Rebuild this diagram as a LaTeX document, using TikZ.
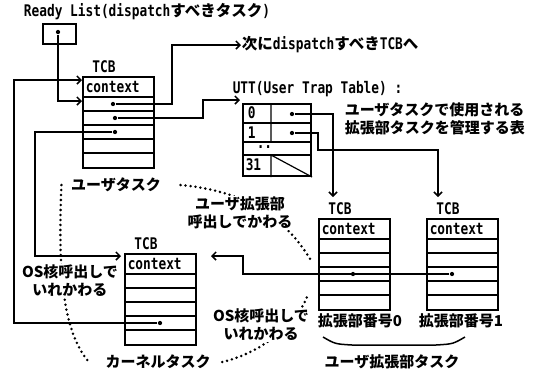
\documentclass[tikz,border=0pt]{standalone}
\usepackage{fontspec}
\setmainfont{DejaVu Sans Mono}[FakeStretch=0.8]
\newfontfamily\jpf{Noto Sans CJK JP}
\newcommand\jp[1]{{\jpf\fontsize{15.5}{17}\selectfont #1}}
\usetikzlibrary{arrows.meta}
\begin{document}
\begin{tikzpicture}[x=1pt,y=-1pt,>={Straight Barb[length=4pt,width=8pt]},line width=1.5pt,
    lbl/.style={font=\bfseries\fontsize{16}{18}\selectfont,inner sep=0pt},
    jlbl/.style={font=\jpf\bfseries\fontsize{15}{18}\selectfont,inner sep=1pt,align=center},
    tcb/.style={draw,line width=2pt,minimum width=71pt,minimum height=91pt,anchor=north west,inner sep=0pt},
    dot/.style={circle,fill,inner sep=1.5pt},
    chg/.style={dash pattern=on 0pt off 5pt,line width=2.8pt,line cap=round}]
    \useasboundingbox (0,0) rectangle (547,373);
    \node[lbl] (title) at (147,12) {Ready List(dispatch\jp{すべきタスク})};
    \node[draw,line width=2pt,minimum width=33pt,minimum height=20pt,anchor=north west,inner sep=0pt] (rl) at (42,23) {};
    \node[dot] (rldot) at (58,32) {};
    % TCB
    \foreach \n/\x/\y in {user/82/76,kern/124/253,ext0/318/218,ext1/426/218}
    {
        \node[tcb] (\n) at (\x,\y) {};
        \foreach \r in {0,...,4}
            \draw[line width=1.2pt] ([yshift={-21pt-14pt*\r}]\n.north west) -- ([yshift={-21pt-14pt*\r}]\n.north east);
        \node[lbl,anchor=west] at ([xshift=3pt,yshift=-10.5pt]\n.north west) {context};
        \node[lbl,anchor=south] at ([xshift=22pt,yshift=3pt]\n.north west) {TCB};
    }
    \node[dot] (u1) at ([xshift=31pt,yshift=-28pt]user.north west) {};
    \node[dot] (u2) at ([xshift=33pt,yshift=-42pt]user.north west) {};
    \node[dot] (u3) at ([xshift=33pt,yshift=-56pt]user.north west) {};
    \node[dot] (k4) at ([xshift=36pt,yshift=-70pt]kern.north west) {};
    \node[dot] (e0) at ([xshift=35pt,yshift=-56pt]ext0.north west) {};
    \node[dot] (e1) at ([xshift=26pt,yshift=-56pt]ext1.north west) {};
    % UTT
    \node[lbl,anchor=west] (utttitle) at (232,89) {UTT(User Trap Table) :};
    \node[draw,line width=2pt,minimum width=68pt,minimum height=72pt,anchor=north west,inner sep=0pt] (utt) at (242,103) {};
    \foreach \r in {20,39,52}
        \draw[line width=1.2pt] ([yshift=-\r pt]utt.north west) -- ([yshift=-\r pt]utt.north east);
    \draw[line width=1.2pt] ([xshift=29pt]utt.north west) -- ++(0,39)
        ([xshift=29pt,yshift=-52pt]utt.north west) -- ([xshift=29pt]utt.south west)
        ([xshift=29pt,yshift=-52pt]utt.north west) -- (utt.south east);
    \node[lbl,anchor=west] at ([xshift=5pt,yshift=-10pt]utt.north west) {0};
    \node[lbl,anchor=west] at ([xshift=5pt,yshift=-30pt]utt.north west) {1};
    \node[lbl,anchor=west] at ([xshift=14pt,yshift=-44pt]utt.north west) {..};
    \node[lbl,anchor=west] at ([xshift=3pt,yshift=-62pt]utt.north west) {31};
    \node[dot] (t0) at ([xshift=50pt,yshift=-11pt]utt.north west) {};
    \node[dot] (t1) at ([xshift=50pt,yshift=-30pt]utt.north west) {};
    \node[jlbl,anchor=north west,align=left] (note) at (343,101) {ユーザタスクで使用される\\拡張部タスクを管理する表};
    % pointers
    \node[lbl,anchor=west] (next) at (241,45) {\jp{次に}dispatch\jp{すべき}TCB\jp{へ}};
    \coordinate (j1) at (172,45);
    \draw[->] (u1) -| (j1) -- (next.west);
    \coordinate (j2) at (203,100);
    \draw[->] (u2) -| (j2) -- ([xshift=-2pt,yshift=3pt]utt.north west);
    \draw[->] (rldot) |- ([yshift=-25pt]user.north west);
    \coordinate (j3) at (14,80);
    \draw[->] (k4) -| (j3) -- ([yshift=-4pt]user.north west);
    \coordinate (j4) at (35,256);
    \draw[->,shorten >=3pt] (u3) -| (j4) -- ([yshift=-3pt]kern.north west);
    \coordinate (j5) at (243,256);
    \draw[->] (e1) -| (j5) -- ([xshift=14pt,yshift=-3pt]kern.north east);
    \draw[->] (t0) -| ([xshift=15pt,yshift=21pt]ext0.north west);
    \coordinate (j6) at (318,150);
    \draw[->] (t1) -| (j6) -| ([xshift=12pt,yshift=21pt]ext1.north west);
    % labels
    \node[jlbl] (ulbl) at (116,185) {ユーザタスク};
    \node[jlbl] (klbl) at (158,362) {カーネルタスク};
    \node[jlbl] (n0) at (360,321) {拡張部番号0};
    \node[jlbl] (n1) at (461,321) {拡張部番号1};
    \node[jlbl] (grp) at (392,362) {ユーザ拡張部タスク};
    \draw (323,337) .. controls (335,344) .. (352,345) -- (436,345) .. controls (453,344) .. (465,337);
    % task switches
    \draw[chg] ([xshift=18pt]ulbl.east) .. controls (255,192) and (290,225) .. ([xshift=-6pt,yshift=-44pt]ext0.north west);
    \draw[chg] ([xshift=-8pt]ulbl.west) .. controls (58,270) and (62,330) .. ([xshift=-15pt]klbl.west);
    \draw[chg] ([xshift=10pt]klbl.east) .. controls (265,352) and (300,320) .. ([xshift=-10pt,yshift=-76pt]ext0.north west);
    \node[jlbl,fill=white] (os1) at (70,281) {OS核呼出しで\\いれかわる};
    \node[jlbl,fill=white] (os2) at (261,325) {OS核呼出しで\\いれかわる};
    \node[jlbl,fill=white] (call) at (240,213) {ユーザ拡張部\\呼出しでかわる};
\end{tikzpicture}
\end{document}
